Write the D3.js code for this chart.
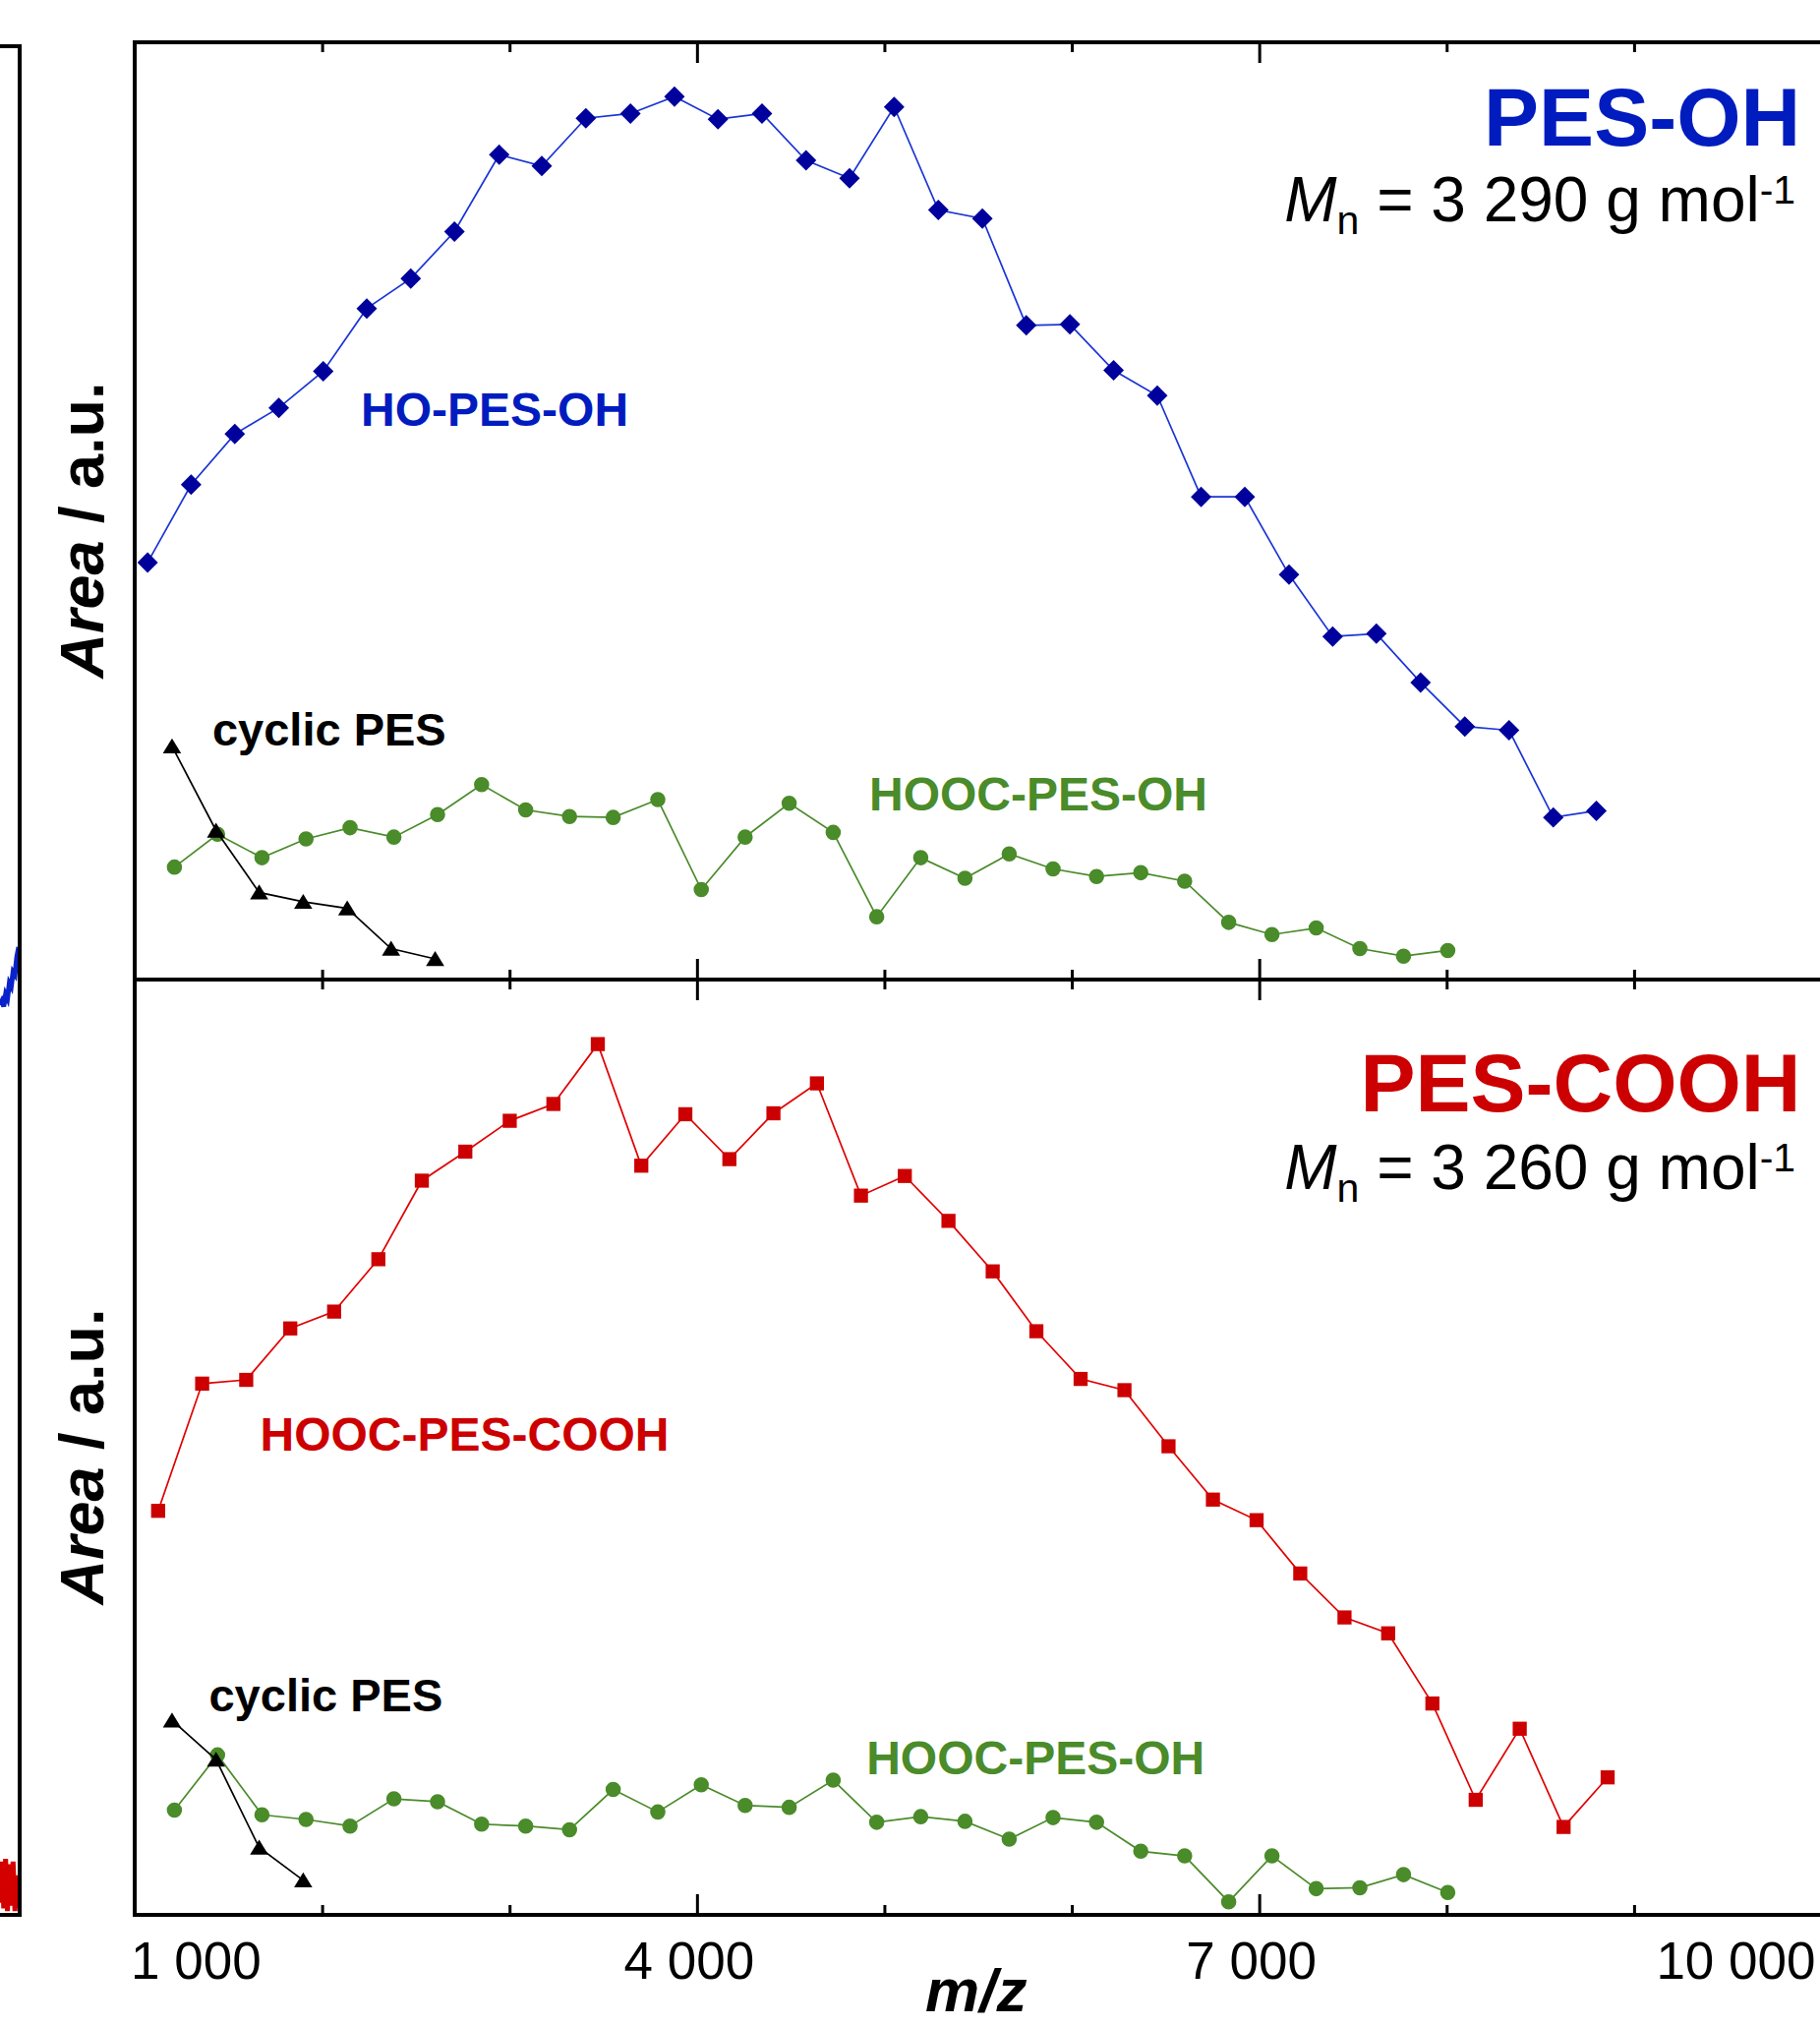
<!DOCTYPE html>
<html>
<head>
<meta charset="utf-8">
<script src="https://cdn.jsdelivr.net/npm/d3@7"></script>
<style>
  html, body { margin: 0; padding: 0; background: #fff; }
  svg { display: block; }
  text { font-family: "Liberation Sans", Arial, Helvetica, sans-serif; white-space: pre; }
</style>
</head>
<body>
<div id="vis"></div>
<script>
// ---------------- data (m/z, area in a.u. 0-100) ----------------
const MZ_HO_PES_OH = [1069, 1301, 1534, 1769, 2006, 2238, 2473, 2706, 2945, 3172, 3407, 3645, 3880, 4112, 4347, 4582, 4814,
  5052, 5288, 5523, 5757, 5990, 6223, 6456, 6690, 6923, 7159, 7392, 7625, 7861, 8097, 8333, 8569, 8799];
const AREA_HO_PES_OH = [44.5, 52.8, 58.2, 61.0, 64.9, 71.6, 74.8, 79.8, 88.0, 86.8, 91.9, 92.4, 94.2, 91.8, 92.4, 87.4, 85.5,
  93.1, 82.1, 81.2, 69.8, 69.9, 65.0, 62.3, 51.5, 51.5, 43.2, 36.6, 36.9, 31.7, 27.0, 26.6, 17.3, 18.0];

const MZ_HOOC_PES_OH = [1212, 1442, 1679, 1914, 2149, 2383, 2616, 2851, 3086, 3320, 3553, 3791, 4023, 4257, 4492,
  4727, 4959, 5194, 5430, 5666, 5900, 6132, 6368, 6602, 6837, 7068, 7304, 7537, 7770, 8006];
const AREA_HOOC_PES_OH_1 = [12.0, 15.5, 13.0, 15.0, 16.2, 15.2, 17.6, 20.8, 18.1, 17.4, 17.3, 19.2, 9.6, 15.2, 18.8,
  15.7, 6.7, 13.0, 10.8, 13.4, 11.8, 11.0, 11.4, 10.5, 6.1, 4.8, 5.5, 3.3, 2.5, 3.1];
const AREA_HOOC_PES_OH_2 = [11.2, 17.1, 10.7, 10.2, 9.5, 12.4, 12.1, 9.7, 9.5, 9.1, 13.4, 11.0, 13.9, 11.7, 11.5,
  14.4, 9.9, 10.5, 10.0, 8.1, 10.4, 9.9, 6.8, 6.3, 1.4, 6.3, 2.8, 2.9, 4.3, 2.4];

const MZ_CYCLIC = [1199, 1434, 1664, 1899, 2134, 2368, 2603];
const AREA_CYCLIC_1 = [24.9, 15.9, 9.3, 8.3, 7.6, 3.3, 2.2];
const AREA_CYCLIC_2 = [20.8, 16.6, 7.2, 3.7];

const MZ_HOOC_PES_COOH = [1125, 1360, 1595, 1830, 2064, 2300, 2532, 2764, 3001, 3234, 3471, 3703, 3938, 4173, 4408,
  4640, 4875, 5109, 5342, 5578, 5811, 6047, 6281, 6516, 6753, 6986, 7219, 7455, 7688, 7924, 8155, 8390, 8624, 8859];
const AREA_HOOC_PES_COOH = [43.2, 56.8, 57.2, 62.7, 64.5, 70.1, 78.5, 81.6, 84.9, 86.7, 93.1, 80.1, 85.6, 80.8, 85.7,
  88.9, 76.9, 79.0, 74.2, 68.8, 62.4, 57.3, 56.1, 50.1, 44.4, 42.2, 36.5, 31.8, 30.1, 22.6, 12.3, 19.9, 9.4, 14.7];

const TICKS_MAJOR = [1000, 4000, 7000, 10000];
const TICKS_MINOR = [2000, 3000, 5000, 6000, 8000, 9000];

// pieces of the neighbouring (cropped) spectrum panel
const FRAG_X = [0, 0.1, 0.2, 0.3, 0.4, 0.5, 0.6, 0.7, 0.8, 0.9, 1.0];
const FRAG_BLUE = [0.12, 0.18, 0.1, 0.28, 0.22, 0.45, 0.4, 0.62, 0.58, 0.85, 1.0];
const FRAG_RED = [0.2, 0.95, 0.1, 1.0, 0.05, 0.9, 0.15, 0.95, 0.05, 0.7, 0.1];

// ---------------- layout ----------------
const SVG_WIDTH = 1851;
const SVG_HEIGHT = 2060;
const PLOT = { left: 137, right: 1852.5, top: 43, mid: 996, bottom: 1947 };

const COLORS = {
  blueText: "#001cbf",
  blueMark: "#00009c",
  blueLine: "#1a34d6",
  red: "#cc0000",
  redLine: "#e00000",
  green: "#4a8b2a",
  black: "#000"
};

const svg = d3.select("#vis").append("svg")
  .attr("width", SVG_WIDTH)
  .attr("height", SVG_HEIGHT);

const x = d3.scaleLinear().domain([1000, 10000]).range([PLOT.left, PLOT.right]);
const yTop = d3.scaleLinear().domain([0, 100]).range([PLOT.mid, PLOT.top]);
const yBot = d3.scaleLinear().domain([0, 100]).range([PLOT.bottom, PLOT.mid]);

// marker shapes
const diamond = d3.symbol().type(d3.symbolSquare).size(220);
const square = d3.symbol().type(d3.symbolSquare).size(205);
const circle = d3.symbol().type(d3.symbolCircle).size(190);
const triangle = { draw(ctx) { ctx.moveTo(0, -8); ctx.lineTo(9.3, 7.2); ctx.lineTo(-9.3, 7.2); ctx.closePath(); } };
const tri = d3.symbol().type(triangle);

function drawSeries(yScale, xs, ys, opt) {
  const pts = ys.map((v, i) => [xs[i], v]);
  const g = svg.append("g");
  g.append("path")
    .datum(pts)
    .attr("fill", "none")
    .attr("stroke", opt.line)
    .attr("stroke-width", 1.7)
    .attr("d", d3.line().x(d => x(d[0])).y(d => yScale(d[1])));
  g.selectAll("path.m")
    .data(pts)
    .join("path")
    .attr("class", "m")
    .attr("d", opt.symbol)
    .attr("fill", opt.fill)
    .attr("transform", d => `translate(${x(d[0])},${yScale(d[1])})` + (opt.rotate ? " rotate(45)" : ""));
}

// ---------------- cropped neighbour panel ----------------
const fx = d3.scaleLinear().domain([0, 1]).range([0, 19]);
const fyBlue = d3.scaleLinear().domain([0, 1]).range([1030, 963]);
const fyRed = d3.scaleLinear().domain([0, 1]).range([1946, 1890]);
svg.append("path")
  .attr("d", d3.line().x((d, i) => fx(FRAG_X[i])).y(d => fyBlue(d))(FRAG_BLUE))
  .attr("fill", "none").attr("stroke", "#0a22cc").attr("stroke-width", 5);
svg.append("path")
  .attr("d", d3.line().x((d, i) => fx(FRAG_X[i])).y(d => fyRed(d))(FRAG_RED))
  .attr("fill", "none").attr("stroke", "#d40000").attr("stroke-width", 5);
svg.append("path")
  .attr("d", `M0,47H20V1947H0`)
  .attr("fill", "none").attr("stroke", "#000").attr("stroke-width", 4);

// ---------------- series ----------------
drawSeries(yTop, MZ_HOOC_PES_OH, AREA_HOOC_PES_OH_1, { line: COLORS.green, fill: COLORS.green, symbol: circle });
drawSeries(yTop, MZ_CYCLIC, AREA_CYCLIC_1, { line: COLORS.black, fill: COLORS.black, symbol: tri });
drawSeries(yTop, MZ_HO_PES_OH, AREA_HO_PES_OH, { line: COLORS.blueLine, fill: COLORS.blueMark, symbol: diamond, rotate: true });

drawSeries(yBot, MZ_HOOC_PES_OH, AREA_HOOC_PES_OH_2, { line: COLORS.green, fill: COLORS.green, symbol: circle });
drawSeries(yBot, MZ_CYCLIC.slice(0, AREA_CYCLIC_2.length), AREA_CYCLIC_2, { line: COLORS.black, fill: COLORS.black, symbol: tri });
drawSeries(yBot, MZ_HOOC_PES_COOH, AREA_HOOC_PES_COOH, { line: COLORS.redLine, fill: COLORS.red, symbol: square });

// ---------------- axes / frame ----------------
function tickRow(yPos, dir, values, len) {
  const ax = dir > 0 ? d3.axisBottom(x) : d3.axisTop(x);
  const g = svg.append("g")
    .attr("transform", `translate(0,${yPos})`)
    .call(ax.tickValues(values).tickSize(len).tickFormat(""));
  g.select(".domain").remove();
  g.selectAll("line").attr("stroke", "#000").attr("stroke-width", 3);
}
// top frame: ticks pointing down
tickRow(PLOT.top, 1, TICKS_MAJOR, 21);
tickRow(PLOT.top, 1, TICKS_MINOR, 10);
// divider: ticks both ways
tickRow(PLOT.mid, 1, TICKS_MAJOR, 21);
tickRow(PLOT.mid, 1, TICKS_MINOR, 10);
tickRow(PLOT.mid, -1, TICKS_MAJOR, 21);
tickRow(PLOT.mid, -1, TICKS_MINOR, 10);
// bottom axis: ticks pointing up
tickRow(PLOT.bottom, -1, TICKS_MAJOR, 21);
tickRow(PLOT.bottom, -1, TICKS_MINOR, 10);

[PLOT.top, PLOT.mid, PLOT.bottom].forEach(yy => {
  svg.append("line")
    .attr("x1", PLOT.left - 2).attr("x2", x(10000) + 2)
    .attr("y1", yy).attr("y2", yy)
    .attr("stroke", "#000").attr("stroke-width", 4);
});
svg.append("line")
  .attr("x1", PLOT.left).attr("x2", PLOT.left)
  .attr("y1", PLOT.top - 2).attr("y2", PLOT.bottom + 2)
  .attr("stroke", "#000").attr("stroke-width", 4);

// tick labels
const fmt = v => d3.format(",")(v).replace(",", " ");
svg.selectAll("text.tick")
  .data(TICKS_MAJOR)
  .join("text")
  .attr("class", "tick")
  .attr("x", (d, i) => x(d) + (i === 0 ? -4 : i === TICKS_MAJOR.length - 1 ? -6 : -8))
  .attr("y", 2012)
  .attr("text-anchor", (d, i) => i === 0 ? "start" : i === TICKS_MAJOR.length - 1 ? "end" : "middle")
  .attr("font-size", 53)
  .text(fmt);

// axis titles (kept just inside the bottom edge)
svg.append("text")
  .attr("x", (PLOT.left + PLOT.right) / 2 - 2)
  .attr("y", 2045)
  .attr("text-anchor", "middle")
  .attr("font-size", 62)
  .attr("font-weight", "bold")
  .attr("font-style", "italic")
  .text("m/z");

[[yTop, 539], [yBot, 1481]].forEach(([sc, cy]) => {
  const t = svg.append("text")
    .attr("transform", `translate(105,${cy}) rotate(-90)`)
    .attr("text-anchor", "middle")
    .attr("font-size", 63)
    .attr("font-weight", "bold");
  t.append("tspan").attr("font-style", "italic").text("Area");
  t.append("tspan").text(" / a.u.");
});

// ---------------- annotations ----------------
function label(yScale, mz, v, str, color, size, anchor) {
  return svg.append("text")
    .attr("x", x(mz)).attr("y", yScale(v))
    .attr("text-anchor", anchor || "start")
    .attr("font-size", size)
    .attr("font-weight", "bold")
    .attr("fill", color)
    .text(str);
}
label(yTop, 2207, 59.1, "HO-PES-OH", COLORS.blueText, 48);
label(yTop, 1414, 25.0, "cyclic PES", COLORS.black, 47);
label(yTop, 4919, 18.0, "HOOC-PES-OH", COLORS.green, 48);
label(yTop, 9888, 89.0, "PES-OH", COLORS.blueText, 84, "end");

label(yBot, 1669, 49.65, "HOOC-PES-COOH", COLORS.red, 48);
label(yBot, 1396, 21.8, "cyclic PES", COLORS.black, 47);
label(yBot, 4904, 15.0, "HOOC-PES-OH", COLORS.green, 48);
label(yBot, 9890, 85.9, "PES-COOH", COLORS.red, 84, "end");

function mnLabel(yScale, v, value) {
  const t = svg.append("text")
    .attr("x", x(9862)).attr("y", yScale(v))
    .attr("text-anchor", "end")
    .attr("font-size", 64)
    .attr("fill", "#000");
  t.append("tspan").attr("font-style", "italic").text("M");
  t.append("tspan").attr("font-size", 41).attr("dy", 13).text("n");
  t.append("tspan").attr("dy", -13).text(` = ${value} g mol`);
  t.append("tspan").attr("font-size", 41).attr("dy", -18).text("-1");
}
mnLabel(yTop, 80.9, "3 290");
mnLabel(yBot, 77.6, "3 260");
</script>
</body>
</html>
